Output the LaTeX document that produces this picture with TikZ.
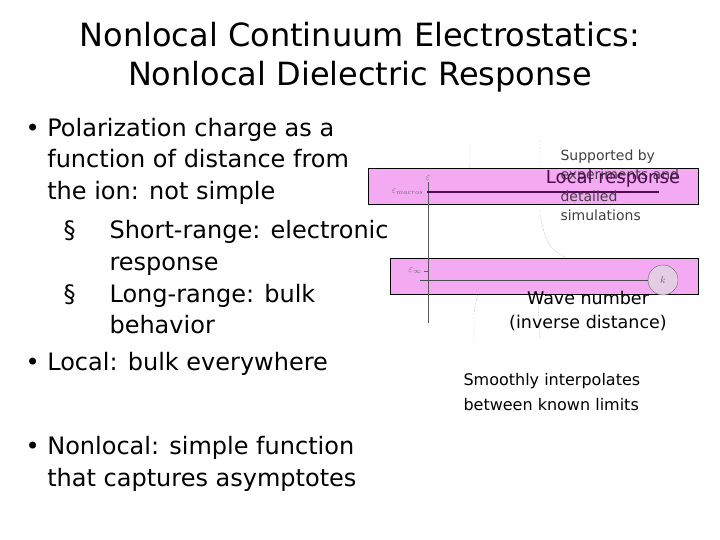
\documentclass[tikz,border=0pt]{standalone}
\usepackage{fontspec}
\setmainfont{DejaVu Sans}
\usetikzlibrary{positioning}
\definecolor{bandpink}{RGB}{243, 170, 243}
\definecolor{localpurple}{RGB}{80, 10, 80}
\begin{document}
\begin{tikzpicture}[x=1pt, y=-1pt,
    band/.style={draw=black, fill=bandpink},
    bul/.style={anchor=west, font=\fontsize{24}{31.5}\selectfont, align=left},
    note/.style={anchor=west, font=\fontsize{14}{16}\selectfont, text=black!75},
    axlab/.style={font=\fontsize{10}{12}\selectfont, text=black!60},
    dots/.style={gray, densely dotted, thin}
]
    \useasboundingbox (0,0) rectangle (720,540);
    % title
    \node[font=\fontsize{32}{39}\selectfont, align=center] (title) at (360,57) {Nonlocal Continuum Electrostatics:\\Nonlocal Dielectric Response};
    % bullet list
    \node[bul] (b1) at (22,161) {•\ Polarization charge as a\\\phantom{•\ }function of distance from\\\phantom{•\ }the ion: not simple};
    \node[bul] (s1) at (60,248) {§\hspace{34pt}Short-range: electronic\\\phantom{§}\hspace{34pt}response};
    \node[bul] (s2) at (60,310) {§\hspace{34pt}Long-range: bulk\\\phantom{§}\hspace{34pt}behavior};
    \node[bul] (b2) at (22,364) {•\ Local: bulk everywhere};
    \node[bul] (b3) at (22,464) {•\ Nonlocal: simple function\\\phantom{•\ }that captures asymptotes};
    % plot
    \draw[dots] (470,143) -- (470,165) .. controls (466,176) .. (456,190);
    \draw[dots] (540,140) -- (540,215) .. controls (548,250) .. (589,269);
    \draw[dots] (474,340) -- (474,312) .. controls (480,282) .. (498,281) .. controls (515,281) .. (538,300) -- (540,340);
    \node[band, minimum width=330pt, minimum height=36pt, anchor=north west] (macro) at (368,168) {};
    \node[band, minimum width=308pt, minimum height=36pt, anchor=north west] (inf) at (390,258) {};
    \coordinate (ytop) at (428,182);
    \coordinate (ybot) at (428,323);
    \draw[gray!70!black] (ytop) -- (ybot);
    \node[axlab, above=-2pt of ytop] (eps) {$\varepsilon$};
    \coordinate (mstart) at (427,192);
    \coordinate (mend) at (659,192);
    \draw[localpurple, line width=2.2pt] (mstart) -- (mend);
    \node[axlab, left=0pt of mstart] (emacro) {$\varepsilon_{macros}$};
    \coordinate (istart) at (420,280);
    \node[draw=black!60, fill=violet!20, circle, minimum size=30pt, inner sep=0pt, axlab] (k) at (663,280) {$k$};
    \draw[black!70] (istart) -- (k);
    \coordinate (itick) at (428,271);
    \draw[black!60] (itick) -- ++(-4,0);
    \node[axlab, left=3pt of itick] (einf) {$\varepsilon_{\infty}$};
    % annotations
    \node[note] (sup) at (557,157) {Supported by};
    \node[note] (exp) at (557,176) {experiments and};
    \node[note] (det) at (557,196) {detailed};
    \node[note] (sim) at (557,215) {simulations};
    \node[font=\fontsize{18}{20}\selectfont, text=localpurple] (loc) at (613,179) {Local response};
    \node[font=\fontsize{17.5}{24}\selectfont, align=center] (wave) at (588,311) {Wave number\\(inverse distance)};
    \node[font=\fontsize{16}{25}\selectfont, align=left, anchor=west] (smooth) at (460,392) {Smoothly interpolates\\between known limits};
\end{tikzpicture}
\end{document}
